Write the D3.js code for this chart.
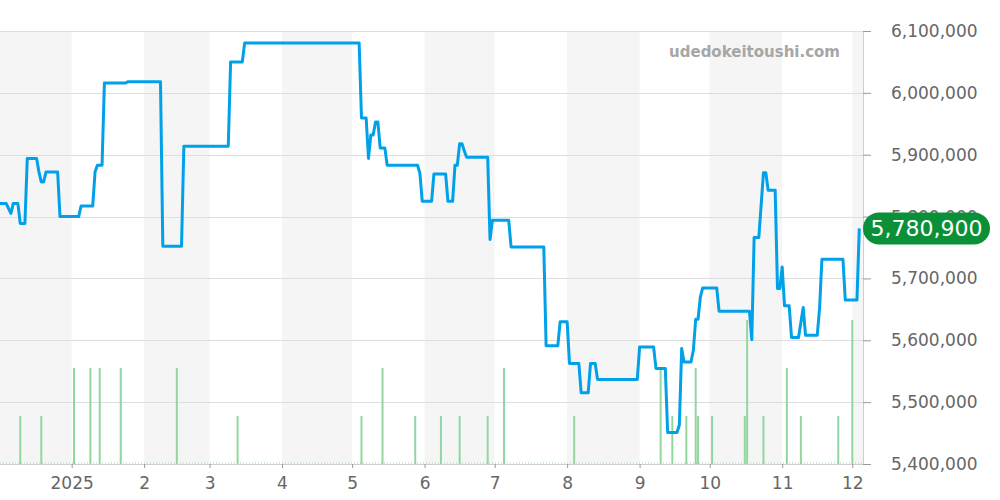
<!doctype html>
<html lang="ja">
<head>
<meta charset="utf-8" />
<title>price chart</title>
<style>
  html, body { margin: 0; padding: 0; background: #fff; }
  svg { display: block; font-family: "DejaVu Sans", sans-serif; }
</style>
</head>
<body>
<svg id="chart" width="1000" height="500"></svg>
<script src="https://cdn.jsdelivr.net/npm/d3@7/dist/d3.min.js"></script>
<script>
// price history (change points of a daily series)
const priceDates = [
  '2024-12-01','2024-12-04','2024-12-06','2024-12-07','2024-12-09','2024-12-10','2024-12-12','2024-12-13',
  '2024-12-17','2024-12-18','2024-12-19','2024-12-20','2024-12-21','2024-12-26','2024-12-27',
  '2025-01-04','2025-01-05','2025-01-10','2025-01-11','2025-01-12','2025-01-14','2025-01-15','2025-01-24','2025-01-25',
  '2025-02-08','2025-02-09','2025-02-17','2025-02-18',
  '2025-03-09','2025-03-10','2025-03-15','2025-03-16',
  '2025-05-04','2025-05-05','2025-05-07','2025-05-08','2025-05-09','2025-05-10','2025-05-11','2025-05-12','2025-05-13',
  '2025-05-15','2025-05-16','2025-05-29','2025-05-30','2025-05-31',
  '2025-06-04','2025-06-05','2025-06-10','2025-06-11','2025-06-13','2025-06-14','2025-06-15','2025-06-16','2025-06-17',
  '2025-06-18','2025-06-19','2025-06-28','2025-06-29','2025-06-30',
  '2025-07-07','2025-07-08','2025-07-22','2025-07-23','2025-07-28','2025-07-29',
  '2025-08-01','2025-08-02','2025-08-06','2025-08-07','2025-08-10','2025-08-11','2025-08-13','2025-08-14','2025-08-31',
  '2025-09-01','2025-09-07','2025-09-08','2025-09-12','2025-09-13','2025-09-17','2025-09-18','2025-09-19','2025-09-20',
  '2025-09-23','2025-09-24','2025-09-25','2025-09-26','2025-09-27','2025-09-28',
  '2025-10-04','2025-10-05','2025-10-18','2025-10-19','2025-10-20','2025-10-22','2025-10-24','2025-10-25','2025-10-26',
  '2025-10-29','2025-10-30','2025-10-31',
  '2025-11-01','2025-11-02','2025-11-04','2025-11-05','2025-11-08','2025-11-10','2025-11-11','2025-11-16','2025-11-17',
  '2025-11-18','2025-11-27','2025-11-28',
  '2025-12-03','2025-12-04'
];
const prices = [
  5821000,5821000,5805000,5821000,5821000,5789000,5789000,5893700,
  5893700,5872000,5856000,5856000,5872000,5872000,5800000,
  5800000,5817000,5817000,5872000,5883000,5883000,6015800,6015800,6018000,
  6018000,5752000,5752000,5913600,
  5913600,6049700,6049700,6080400,
  6080400,5959300,5959300,5894000,5932000,5932000,5953000,5953000,5911000,
  5911000,5883000,5883000,5870000,5824700,
  5824700,5869000,5869000,5824700,5824700,5883000,5883000,5917700,5917700,
  5906000,5896000,5896000,5763000,5794000,
  5794000,5751000,5751000,5591000,5591000,5629800,
  5629800,5562600,5562600,5515000,5515000,5562600,5562600,5536800,5536800,
  5589000,5589000,5554500,5554500,5451000,5451000,5463000,5586800,5565000,
  5565000,5584000,5634000,5634000,5670000,5684700,
  5684700,5647000,5647000,5601000,5766000,5766000,5871000,5871000,5842500,
  5842500,5683700,5683700,
  5718600,5655700,5655700,5604600,5604600,5653000,5608000,5608000,5651500,
  5731000,5731000,5665000,
  5665000,5780900
];

// trades per day
const volumeDates = [
  '2024-12-10','2024-12-19','2025-01-02','2025-01-09','2025-01-13','2025-01-22','2025-02-15','2025-03-13',
  '2025-05-05','2025-05-14','2025-05-28','2025-06-08','2025-06-16','2025-06-28','2025-07-05','2025-08-04',
  '2025-09-10','2025-09-15','2025-09-21','2025-09-25','2025-09-26','2025-10-02','2025-10-16','2025-10-17',
  '2025-10-24','2025-11-03','2025-11-09','2025-11-25','2025-12-01'
];
const volumes = [1,1,2,2,2,2,2,1, 1,2,1,1,1,1,2,1, 2,1,1,2,1,1,1,3, 1,2,1,1,3];

const yTicks = [5400000,5500000,5600000,5700000,5800000,5900000,6000000,6100000];
const latestPrice = 5780900;
const watermark = 'udedokeitoushi.com';

const W = 1000, H = 500;
const M = { top: 31, right: 137, bottom: 36, left: 0 };
const x0 = M.left, x1 = W - M.right, yTop = M.top, yBot = H - M.bottom;

const parse = d3.timeParse('%Y-%m-%d');
const x = d3.scaleTime()
  .domain([new Date(2024, 11, 1, 8), new Date(2025, 11, 5, 14)])
  .range([x0, x1]);
const y = d3.scaleLinear().domain([5400000, 6100000]).range([yBot, yTop]);
const yVol = d3.scaleLinear().domain([0, 9]).range([yBot, yBot - 9 * 48]);

const svg = d3.select('#chart');

svg.append('defs').append('clipPath').attr('id', 'plot')
  .append('rect').attr('x', x0).attr('y', 0).attr('width', x1 - x0).attr('height', yBot);

// alternating month bands
const months = d3.timeMonth.range(new Date(2024, 11, 1), new Date(2025, 11, 6));
svg.append('g').selectAll('rect').data(months.filter(m => m.getMonth() % 2 === 1)).join('rect')
  .attr('x', d => Math.max(x0, x(d)))
  .attr('width', d => Math.min(x1, x(d3.timeMonth.offset(d, 1))) - Math.max(x0, x(d)))
  .attr('y', yTop).attr('height', yBot - yTop)
  .attr('fill', '#f5f5f5');

// horizontal grid
svg.append('g').selectAll('line').data(yTicks).join('line')
  .attr('x1', x0).attr('x2', x1)
  .attr('y1', d => Math.round(y(d)) + 0.5).attr('y2', d => Math.round(y(d)) + 0.5)
  .attr('stroke', '#dedede');

// volume bars
const plot = svg.append('g').attr('clip-path', 'url(#plot)');
plot.append('line')
  .attr('x1', x0).attr('x2', x1).attr('y1', yBot - 1).attr('y2', yBot - 1)
  .attr('stroke', '#9ed8a8').attr('stroke-dasharray', '1,2');
plot.append('g').selectAll('rect').data(volumeDates).join('rect')
  .attr('x', d => x(parse(d)) - 1)
  .attr('width', 2)
  .attr('y', (d, i) => yVol(volumes[i]))
  .attr('height', (d, i) => yBot - yVol(volumes[i]))
  .attr('fill', '#93d6a0');

// price line
const line = d3.line().x(d => x(parse(d[0]))).y(d => y(d[1]));
plot.append('path')
  .datum(priceDates.map((d, i) => [d, prices[i]]))
  .attr('d', line)
  .attr('fill', 'none')
  .attr('stroke', '#00a1e9')
  .attr('stroke-width', 3)
  .attr('stroke-linejoin', 'round');

// bottom axis
const xAxis = d3.axisBottom(x)
  .tickValues(d3.timeMonth.range(new Date(2025, 0, 1), new Date(2025, 11, 2)))
  .tickFormat(d => d.getMonth() === 0 ? String(d.getFullYear()) : String(d.getMonth() + 1))
  .tickSize(4).tickPadding(9);
const gx = svg.append('g').attr('transform', `translate(0,${yBot})`).call(xAxis);
gx.select('.domain').attr('stroke', '#cfcfcf').attr('d', `M${x0},0.5H${x1}`);
gx.selectAll('.tick line').attr('stroke', '#999');
gx.selectAll('text').attr('fill', '#666').attr('font-size', 17).attr('font-family', '"DejaVu Sans", sans-serif');

// right axis
const yAxis = d3.axisRight(y).tickValues(yTicks).tickFormat(d3.format(',')).tickSize(8).tickPadding(20);
const gy = svg.append('g').attr('transform', `translate(${x1},0)`).call(yAxis);
gy.select('.domain').attr('stroke', '#cfcfcf').attr('d', `M0.5,${yTop}V${yBot}`);
gy.selectAll('.tick line').attr('stroke', '#999');
gy.selectAll('text').attr('fill', '#666').attr('font-size', 17).attr('font-family', '"DejaVu Sans", sans-serif');

// watermark
svg.append('text')
  .attr('x', 840).attr('y', 57)
  .attr('text-anchor', 'end')
  .attr('font-size', 15).attr('font-weight', 'bold')
  .attr('fill', '#a6a6a6')
  .text(watermark);

// latest price badge
const by = y(latestPrice);
svg.append('rect')
  .attr('x', x1).attr('y', by - 16).attr('width', 127).attr('height', 32)
  .attr('rx', 16).attr('fill', '#0a9138');
svg.append('text')
  .attr('x', x1 + 63.5).attr('y', by + 8)
  .attr('text-anchor', 'middle')
  .attr('font-size', 22).attr('fill', '#fff')
  .text(d3.format(',')(latestPrice));
</script>
</body>
</html>
